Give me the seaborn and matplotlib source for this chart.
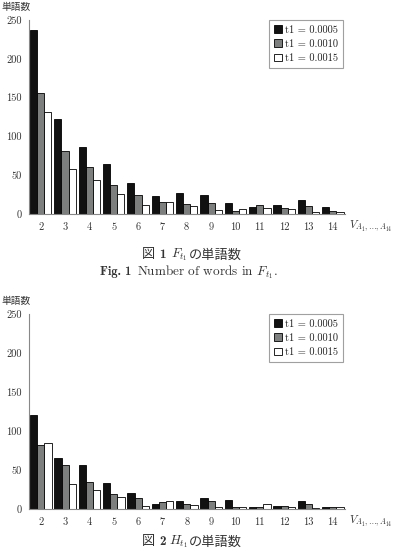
import matplotlib
matplotlib.use("Agg")
import matplotlib.pyplot as plt
import seaborn as sns
import pandas as pd
from matplotlib.ticker import FixedLocator

sns.set_theme(style="white")
plt.rcParams['font.family'] = ['cmr10', 'Noto Sans CJK JP', 'DejaVu Sans']
plt.rcParams['mathtext.fontset'] = 'cm'
plt.rcParams['axes.formatter.use_mathtext'] = True

categories = ["2", "3", "4", "5", "6", "7", "8", "9", "10", "11", "12", "13", "14"]
series_names = ["t1 = 0.0005", "t1 = 0.0010", "t1 = 0.0015"]

f_0005 = [237, 123, 86, 64, 40, 23, 27, 25, 14, 9, 12, 18, 9]
f_0010 = [156, 81, 60, 38, 24, 16, 13, 14, 4, 11, 8, 10, 4]
f_0015 = [131, 58, 44, 26, 11, 15, 10, 5, 6, 8, 6, 2, 3]

h_0005 = [120, 66, 56, 33, 21, 7, 10, 14, 12, 2, 4, 10, 3]
h_0010 = [82, 57, 35, 19, 14, 9, 7, 10, 3, 3, 4, 6, 2]
h_0015 = [85, 32, 25, 16, 4, 10, 5, 2, 2, 6, 3, 1, 2]

y_ticks = [0, 50, 100, 150, 200, 250]
colors = ["#111111", "#7b807d", "#ffffff"]

W, H = 398, 552
fig = plt.figure(figsize=(W / 100, H / 100), dpi=100)
CJK = ["Noto Sans CJK JP", "DejaVu Sans"]
TXT = "#333333"


def make_df(a, b, c):
    rows = []
    for name, vals in zip(series_names, (a, b, c)):
        for cat, v in zip(categories, vals):
            rows.append({"cat": cat, "series": name, "count": v})
    return pd.DataFrame(rows)


def put(x, y, s, **kw):
    fig.text(x / W, 1 - y / H, s, ha="left", va="center", color=TXT, **kw)


def draw(df, left_px, top_px, bottom_px, right_px):
    ax = fig.add_axes([left_px / W, 1 - bottom_px / H,
                       (right_px - left_px) / W, (bottom_px - top_px) / H])
    sns.barplot(data=df, x="cat", y="count", hue="series", order=categories,
                hue_order=series_names, palette=colors, width=0.88,
                edgecolor="black", linewidth=0.6, ax=ax, legend=True)
    ax.set_xlim(-0.5, len(categories) - 0.5)
    ax.set_ylim(0, 250)
    ax.set_yticks(y_ticks)
    ax.set_yticklabels([str(t) for t in y_ticks])
    ax.set_xlabel("")
    ax.set_ylabel("")
    for s in ["top", "right"]:
        ax.spines[s].set_visible(False)
    for s in ["left", "bottom"]:
        ax.spines[s].set_color("#888888")
        ax.spines[s].set_linewidth(0.8)
    ax.tick_params(axis="x", which="major", length=0, pad=6, labelsize=7.5, colors=TXT)
    ax.xaxis.set_minor_locator(FixedLocator([i - 0.5 for i in range(len(categories) + 1)]))
    ax.tick_params(axis="x", which="minor", length=3, width=0.8, color="#888888", direction="out")
    ax.tick_params(axis="y", length=3, width=0.8, color="#888888", direction="out",
                   labelsize=7.5, labelcolor=TXT, pad=2)
    leg = ax.legend(loc="upper right", bbox_to_anchor=(0.994, 1.0), borderaxespad=0,
                    fancybox=False, frameon=True, fontsize=7.5, handlelength=0.75,
                    handleheight=0.75, handletextpad=0.3, labelspacing=0.45,
                    borderpad=0.5)
    leg.get_frame().set_edgecolor("#888888")
    leg.get_frame().set_linewidth(0.8)
    for t in leg.get_texts():
        t.set_color("#222222")
    put(1, top_px - 13, "単語数", fontsize=7, family=CJK)
    put(right_px + 4, bottom_px + 12, r"$V_{A_1,\ldots,A_{14}}$", fontsize=8)
    return ax


draw(make_df(f_0005, f_0010, f_0015), 28.5, 20, 214, 345)
put(142, 255, "図", fontsize=9.5, family=CJK)
put(159, 255, "1", fontsize=9.5, family=["cmb10"])
put(171, 255, r"$F_{t_1}$", fontsize=9.5)
put(189, 255, "の単語数", fontsize=9.5, family=CJK)
put(100, 272, "Fig. 1", fontsize=9, family=["cmb10"])
put(137, 272, r"Number of words in $F_{t_1}$.", fontsize=9.5)

draw(make_df(h_0005, h_0010, h_0015), 28.7, 314, 509, 345)
put(142, 542, "図", fontsize=9.5, family=CJK)
put(159, 542, "2", fontsize=9.5, family=["cmb10"])
put(169, 542, r"$H_{t_1}$", fontsize=9.5)
put(189, 542, "の単語数", fontsize=9.5, family=CJK)

fig.savefig("out.png", dpi=100)
